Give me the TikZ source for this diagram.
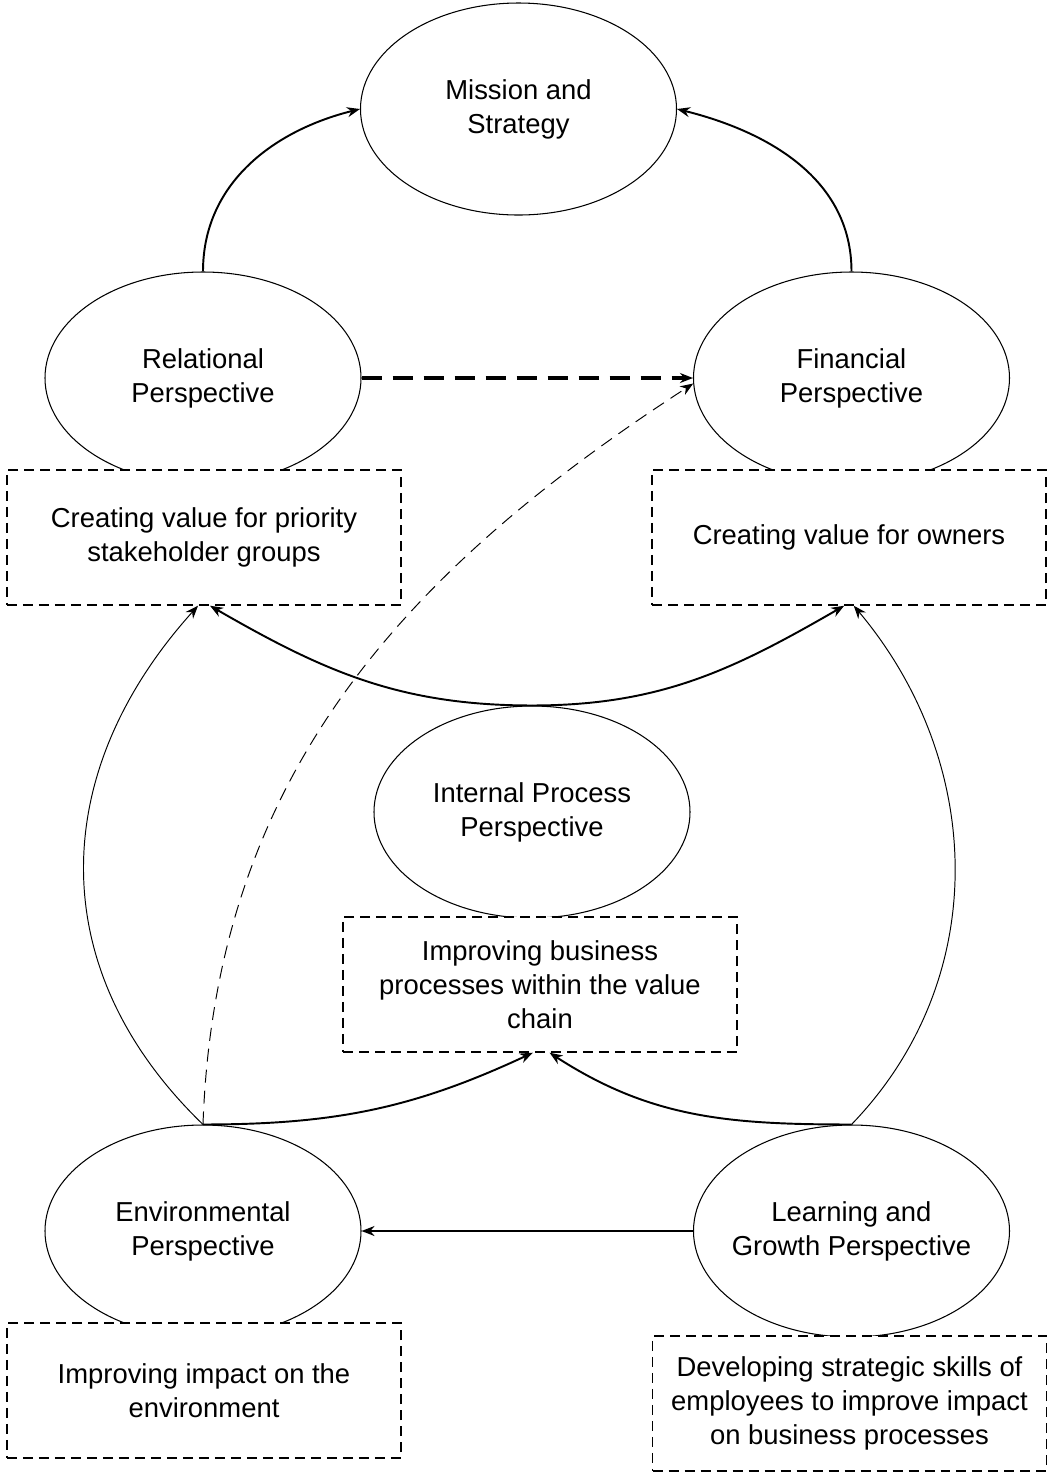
\documentclass[tikz,border=0pt]{standalone}
\usepackage{fontspec}
\setmainfont{Liberation Sans}
\usetikzlibrary{shapes.geometric,arrows.meta}
\tikzset{
	persp/.style={draw, ellipse, line width=0.6pt, minimum width=6.32cm, minimum height=4.24cm, inner xsep=-0.4cm, inner ysep=0pt, align=center, font=\fontsize{15.6}{19.3}\selectfont},
	goalbox/.style={draw, dash pattern=on 0.2cm off 0.12cm, line width=0.8pt, fill=white, minimum width=7.88cm, minimum height=2.7cm, inner sep=0pt, align=center, font=\fontsize{15.6}{19.3}\selectfont},
	link/.style={->, line width=1.1pt},
	thinlink/.style={->, line width=0.55pt}
}

\begin{document}
\begin{tikzpicture}[>={Stealth[length=2.6mm,width=2mm]}]
	\useasboundingbox (0,0) rectangle (20.96,-29.46);
	% perspectives
	\node[persp] (mission) at (10.37,-2.18) {Mission and\\Strategy};
	\node[persp] (relat) at (4.06,-7.56) {Relational\\Perspective};
	\node[persp] (financ) at (17.03,-7.56) {Financial\\Perspective};
	\node[persp] (intern) at (10.64,-16.24) {Internal Process\\Perspective};
	\node[persp] (environ) at (4.06,-24.62) {Environmental\\Perspective};
	\node[persp] (learn) at (17.03,-24.62) {Learning and\\Growth Perspective};
	% goals
	\node[goalbox] (relatgoal) at (4.08,-10.75) {Creating value for priority\\stakeholder groups};
	\node[goalbox] (financgoal) at (16.98,-10.75) {Creating value for owners};
	\node[goalbox] (interngoal) at (10.8,-19.69) {Improving business\\processes within the value\\chain};
	\node[goalbox] (environgoal) at (4.08,-27.81) {Improving impact on the\\environment};
	\node[goalbox] (learngoal) at (16.99,-28.07) {Developing strategic skills of\\employees to improve impact\\on business processes};
	% links
	\draw[link] (relat.north) to[out=90,in=194] (mission.west);
	\draw[link] (financ.north) to[out=90,in=-14] (mission.east);
	\draw[->, line width=2pt, dash pattern=on 0.4cm off 0.22cm] (relat.east) -- (financ.west);
	\draw[->, line width=0.55pt, dash pattern=on 0.26cm off 0.16cm] (environ.north) to[out=88,in=213] (financ.182);
	\draw[thinlink] (environ.north) to[out=136,in=-132,looseness=1.1] (relatgoal.265);
	\draw[thinlink] (learn.north) to[out=46,in=-50] (financgoal.274);
	\draw[link] (intern.north) to[out=180,in=-30] (relatgoal.275);
	\draw[link] (intern.north) to[out=0,in=210] (financgoal.266);
	\draw[link] (environ.north) to[out=0,in=205] (interngoal.264);
	\draw[link] (learn.north) to[out=180,in=-33] (interngoal.278);
	\draw[link] (learn.west) -- (environ.east);
\end{tikzpicture}
\end{document}
